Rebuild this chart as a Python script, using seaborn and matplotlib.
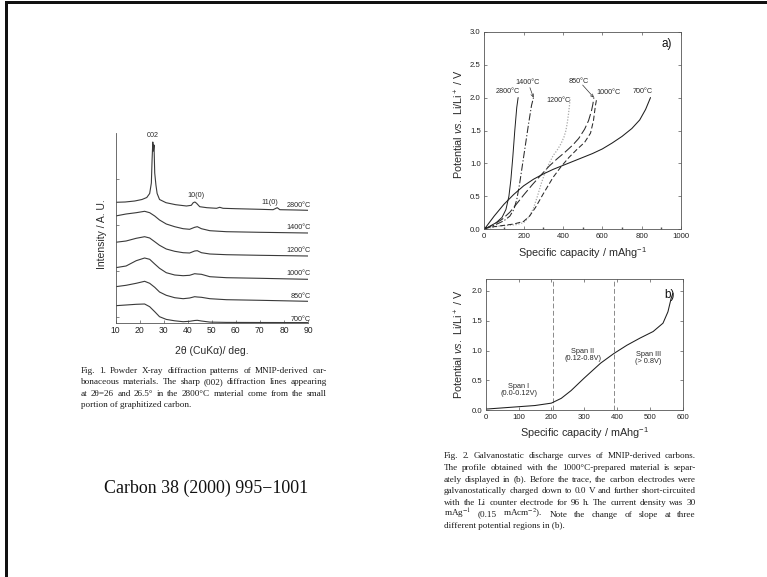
import matplotlib
matplotlib.use("Agg")
import matplotlib.pyplot as plt
from matplotlib.patches import Rectangle
from matplotlib.ticker import MultipleLocator, FormatStrFormatter
import seaborn as sns

W, H = 767, 577

# ---------------- Fig. 1 : XRD patterns (2theta in deg, stacked intensity) ----------------
xrd_labels = ["2800°C", "1400°C", "1200°C", "1000°C", "850°C", "700°C"]

xrd_2800_deg = [10, 14, 18, 21, 23, 24.2, 24.9, 25.2, 25.5, 25.75, 26.0, 26.3, 26.8, 27.3,
                28.3, 31, 35, 39.5, 41.5, 42.3, 43, 43.7, 45, 48, 52, 53.3, 54.7, 60, 65,
                70, 75.5, 77.2, 78.3, 85, 90]
xrd_2800_int = [120.7, 121, 122, 123.5, 125.5, 129.5, 140, 163, 181, 172, 178, 150, 138, 129.5,
                123.5, 120.3, 118.3, 117, 117.7, 120.3, 121, 119.7, 116.3, 115.3, 114.7, 115.7,
                114.7, 114.3, 114, 113.7, 113.3, 115.3, 113.3, 113, 112.7]

xrd_deg = [10, 14.4, 18.6, 22.1, 24.2, 26.3, 28.3, 31.1, 34.6, 38.1, 40.8, 42.9, 44.0, 45.7,
           49.2, 56.1, 70, 90]
xrd_1400_int = [107, 109, 110.3, 111.7, 110.3, 107, 103, 99, 96.3, 94.3, 93.7, 95.7, 96.3, 94.3,
                92.3, 91.3, 90.7, 90]
xrd_1200_int = [80.7, 82, 84.7, 86.3, 85, 81.3, 77.7, 74, 71.7, 70.3, 70, 72, 72.3, 70.3,
                69, 68.3, 67.7, 67]
xrd_1000_int = [55.3, 57, 62.3, 65, 63.7, 59, 54.7, 50.3, 48, 47.3, 47.7, 49.3, 49.0, 48.7,
                46.3, 45.3, 44.7, 43.7]
xrd_850_int = [36.3, 37.7, 39.7, 41.7, 39.7, 35.7, 31, 27.7, 25.3, 24.3, 25, 26.3, 26.0, 25.7,
               24.3, 23.3, 22.7, 21.7]
xrd_700_int = [17.3, 18, 18.7, 19, 16.3, 11.3, 6.3, 3.6, 2.2, 1.3, 1.7, 2.5, 2.7, 2.0,
               0.9, 0.6, 0.5, 0.4]
xrd_label_y = [118, 95.3, 72.3, 49.7, 26.3, 4]
xrd_ticks_y = [6, 52, 98, 144]

# ---------------- Fig. 2a : discharge curves (capacity mAh/g, potential V) ----------------
cap_2800 = [0, 30, 60, 90, 110, 125, 135, 145, 155, 165, 172]
pot_2800 = [0, 0.05, 0.1, 0.18, 0.3, 0.5, 0.75, 1.1, 1.5, 1.85, 2.0]
cap_1400 = [0, 50, 100, 130, 150, 165, 180, 195, 210, 225, 240, 250]
pot_1400 = [0, 0.06, 0.13, 0.2, 0.3, 0.45, 0.7, 1.0, 1.3, 1.6, 1.88, 2.0]
cap_1200 = [0, 40, 80, 120, 160, 200, 230, 250, 270, 290, 310, 330, 350, 370, 390, 405,
            415, 422, 428, 433, 437]
pot_1200 = [0, 0.03, 0.05, 0.06, 0.07, 0.1, 0.2, 0.32, 0.5, 0.7, 0.87, 1.0, 1.12, 1.2, 1.3,
            1.4, 1.5, 1.62, 1.75, 1.88, 2.0]
cap_850 = [0, 40, 90, 130, 160, 200, 245, 290, 330, 370, 410, 450, 480, 510, 530, 545, 552, 557]
pot_850 = [0, 0.06, 0.15, 0.26, 0.37, 0.52, 0.68, 0.83, 0.96, 1.07, 1.17, 1.28, 1.38, 1.52,
           1.65, 1.8, 1.9, 2.0]
cap_1000 = [0, 50, 100, 150, 200, 230, 260, 300, 350, 390, 430, 470, 510, 540, 555, 565, 570]
pot_1000 = [0.02, 0.04, 0.06, 0.08, 0.12, 0.2, 0.33, 0.54, 0.79, 0.95, 1.09, 1.21, 1.32, 1.46,
            1.65, 1.88, 1.96]
cap_700 = [0, 50, 100, 150, 200, 250, 300, 350, 400, 450, 500, 550, 600, 650, 700, 750, 790,
           820, 845]
pot_700 = [0, 0.2, 0.38, 0.53, 0.66, 0.76, 0.84, 0.91, 0.97, 1.03, 1.09, 1.15, 1.22, 1.31,
           1.41, 1.53, 1.66, 1.82, 2.0]

# ---------------- Fig. 2b : span boundaries ----------------
span_bounds = [204, 392]
span_texts = ["Span I\n(0.0-0.12V)", "Span II\n(0.12-0.8V)", "Span III\n(> 0.8V)"]
span_text_xy = [(101, 0.34), (295, 0.92), (495, 0.88)]

fig1_caption = [
    "Fig. 1. Powder X-ray diffraction patterns of MNIP-derived car-",
    "bonaceous materials. The sharp (002) diffraction lines appearing",
    "at 2θ=26 and 26.5° in the 2800°C material come from the small",
    "portion of graphitized carbon.",
]
fig2_caption = [
    "Fig. 2. Galvanostatic discharge curves of MNIP-derived carbons.",
    "The profile obtained with the 1000°C-prepared material is separ-",
    "ately displayed in (b). Before the trace, the carbon electrodes were",
    "galvanostatically charged down to 0.0 V and further short-circuited",
    "with the Li counter electrode for 96 h. The current density was 30",
    "mAg$^{-1}$ (0.15 mAcm$^{-2}$). Note the change of slope at three",
    "different potential regions in (b).",
]
citation = "Carbon 38 (2000) 995\u22121001"

# ---------------- style ----------------
sns.set_theme(style="ticks")
plt.rcParams.update({
    "font.family": ["Liberation Sans", "DejaVu Sans"],
    "mathtext.fontset": "custom",
    "mathtext.rm": "Liberation Sans",
    "mathtext.it": "Liberation Sans:italic",
    "mathtext.bf": "Liberation Sans:bold",
    "axes.edgecolor": "#555555",
    "axes.linewidth": 0.6,
    "xtick.color": "#555555",
    "ytick.color": "#555555",
    "xtick.labelcolor": "#222222",
    "ytick.labelcolor": "#222222",
    "xtick.direction": "in",
    "ytick.direction": "in",
    "xtick.major.size": 2.2,
    "ytick.major.size": 2.2,
    "xtick.minor.size": 1.5,
    "xtick.major.width": 0.5,
    "ytick.major.width": 0.5,
    "xtick.major.pad": 2.5,
    "ytick.major.pad": 2.5,
})

fig = plt.figure(figsize=(W / 100, H / 100), dpi=100, facecolor="white")


def rect(l, r, t, b):
    return [l / W, 1 - b / H, (r - l) / W, (b - t) / H]


INK = "#2a2a2a"

# ---------------- XRD panel ----------------
ax1 = fig.add_axes(rect(115.5, 308, 133, 323))
ax1.set_facecolor("white")
xrd_series = [(xrd_2800_deg, xrd_2800_int), (xrd_deg, xrd_1400_int), (xrd_deg, xrd_1200_int),
              (xrd_deg, xrd_1000_int), (xrd_deg, xrd_850_int), (xrd_deg, xrd_700_int)]
for (xs, ys) in xrd_series:
    sns.lineplot(x=xs, y=ys, ax=ax1, color="#3a3a3a", lw=0.8, sort=False, estimator=None)
for lab, ly in zip(xrd_labels, xrd_label_y):
    ax1.text(91.3, ly, lab, ha="right", va="center", fontsize=5.2, color=INK, clip_on=False)
ax1.text(25.4, 188, "002", ha="center", va="center", fontsize=5.2, color=INK)
ax1.text(43.6, 128, "10(0)", ha="center", va="center", fontsize=5.2, color=INK)
ax1.text(74.2, 121, "11(0)", ha="center", va="center", fontsize=5.2, color=INK)
ax1.set_xlim(10, 90)
ax1.set_ylim(0, 190)
ax1.xaxis.set_major_locator(MultipleLocator(10))
ax1.set_yticks(xrd_ticks_y)
ax1.set_yticklabels([])
ax1.tick_params(axis="x", labelsize=6.2)
for s in ("top", "right"):
    ax1.spines[s].set_visible(False)
ax1.set_xlabel("2θ (CuKα)/ deg.", fontsize=7.5, color=INK, va="center")
ax1.xaxis.set_label_coords(0.5, -0.146)
ax1.set_ylabel("Intensity / A. U.", fontsize=7.5, color=INK, va="center")
ax1.yaxis.set_label_coords(-0.072, 0.47)

# ---------------- panel a ----------------
ax2 = fig.add_axes(rect(484.3, 681, 31.7, 229.3))
curves_a = [
    (cap_2800, pot_2800, "-", "#1e1e1e", 0.7),
    (cap_1400, pot_1400, (0, (7, 2, 1.2, 2)), "#2a2a2a", 0.75),
    (cap_1200, pot_1200, (0, (1, 1.3)), "#a8a8a8", 0.9),
    (cap_850, pot_850, (0, (9, 3)), "#2a2a2a", 0.75),
    (cap_1000, pot_1000, (0, (5, 2.5)), "#2a2a2a", 0.75),
    (cap_700, pot_700, "-", "#1e1e1e", 0.75),
]
for xs, ys, ls, c, lw in curves_a:
    sns.lineplot(x=xs, y=ys, ax=ax2, color=c, lw=lw, linestyle=ls, sort=False, estimator=None)
lab_kw = dict(fontsize=5.2, color=INK, ha="center", va="center")
ax2.text(122, 2.09, "2800°C", **lab_kw)
ax2.text(219, 2.23, "1400°C", **lab_kw)
ax2.text(376, 1.96, "1200°C", **lab_kw)
ax2.text(478, 2.25, "850°C", **lab_kw)
ax2.text(634, 2.07, "1000°C", **lab_kw)
ax2.text(808, 2.09, "700°C", **lab_kw)
arrow_kw = dict(arrowstyle="->", lw=0.5, color="#333333", shrinkA=0, shrinkB=0,
                mutation_scale=5)
ax2.annotate("", xy=(cap_1400[-1], pot_1400[-1]), xytext=(232, 2.15), arrowprops=arrow_kw)
ax2.annotate("", xy=(cap_850[-1], pot_850[-1]), xytext=(500, 2.19), arrowprops=arrow_kw)
ax2.text(927, 2.82, "a)", fontsize=8.5, color="#111111", ha="center", va="center")
ax2.set_xlim(0, 1000)
ax2.set_ylim(0, 3.0)
ax2.xaxis.set_major_locator(MultipleLocator(200))
ax2.xaxis.set_minor_locator(MultipleLocator(100))
ax2.yaxis.set_major_locator(MultipleLocator(0.5))
ax2.yaxis.set_major_formatter(FormatStrFormatter("%.1f"))
ax2.tick_params(labelsize=5.6, top=True, right=True, which="major")
ax2.tick_params(which="minor", bottom=True, top=False)
ax2.set_xlabel("Specific capacity / mAhg$^{-1}$", fontsize=7.8, color=INK, va="center")
ax2.xaxis.set_label_coords(0.5, -0.12)
ax2.set_ylabel("Potential $\\it{vs.}$ Li/Li$^+$ / V", fontsize=7.8, color=INK, va="center")
ax2.yaxis.set_label_coords(-0.129, 0.53)

# ---------------- panel b ----------------
ax3 = fig.add_axes(rect(485.7, 682.7, 279, 410.3))
for xb in span_bounds:
    ax3.axvline(xb, color="#8a8a8a", lw=0.7, linestyle=(0, (5, 2.5)))
sns.lineplot(x=cap_1000, y=pot_1000, ax=ax3, color="#1e1e1e", lw=0.75, sort=False,
             estimator=None)
for txt, (tx, ty) in zip(span_texts, span_text_xy):
    ax3.text(tx, ty, txt, fontsize=5.3, color=INK, ha="center", va="center",
             linespacing=1.0)
ax3.text(561, 1.93, "b)", fontsize=8.5, color="#111111", ha="center", va="center")
ax3.set_xlim(0, 600)
ax3.set_ylim(0, 2.2)
ax3.xaxis.set_major_locator(MultipleLocator(100))
ax3.yaxis.set_major_locator(MultipleLocator(0.5))
ax3.yaxis.set_major_formatter(FormatStrFormatter("%.1f"))
ax3.tick_params(labelsize=5.6, top=True, right=True)
ax3.set_xlabel("Specific capacity / mAhg$^{-1}$", fontsize=7.8, color=INK, va="center")
ax3.xaxis.set_label_coords(0.5, -0.175)
ax3.set_ylabel("Potential $\\it{vs.}$ Li/Li$^+$ / V", fontsize=7.8, color=INK, va="center")
ax3.yaxis.set_label_coords(-0.135, 0.505)

# ---------------- captions (justified, baseline-aligned words) ----------------
renderer = fig.canvas.get_renderer()
serif = ["Liberation Serif", "DejaVu Serif"]


def justified(lines, x0, x1, y0, dy, size):
    for i, line in enumerate(lines):
        yf = 1 - (y0 + i * dy + 2.4) / H
        kw = dict(fontsize=size, family=serif, color="#1a1a1a", va="baseline", ha="left",
                  math_fontfamily="stix")
        words = line.split(" ")
        if i == len(lines) - 1 or len(words) == 1:
            fig.text(x0 / W, yf, line, **kw)
            continue
        arts = [fig.text(0, yf, w, **kw) for w in words]
        widths = [a.get_window_extent(renderer).width for a in arts]
        gap = (x1 - x0 - sum(widths)) / (len(words) - 1)
        x = x0
        for a, w in zip(arts, widths):
            a.set_x(x / W)
            x += w + gap


justified(fig1_caption, 80.7, 326.7, 370.7, 11.4, 6.6)
justified(fig2_caption, 444, 696, 455.7, 11.7, 6.6)

fig.text(206 / W, 1 - 488 / H, citation, fontsize=12.9, family=serif, color="#111111",
         ha="center", va="center")

# page frame (top and left edges)
fig.add_artist(Rectangle((5 / W, 1 - 3.5 / H), 1 - 5 / W, 2.5 / H, transform=fig.transFigure,
                         facecolor="#111111", edgecolor="none"))
fig.add_artist(Rectangle((5 / W, 0), 3 / W, 1 - 1 / H, transform=fig.transFigure,
                         facecolor="#111111", edgecolor="none"))

fig.savefig("out.png", dpi=100, facecolor="white")
